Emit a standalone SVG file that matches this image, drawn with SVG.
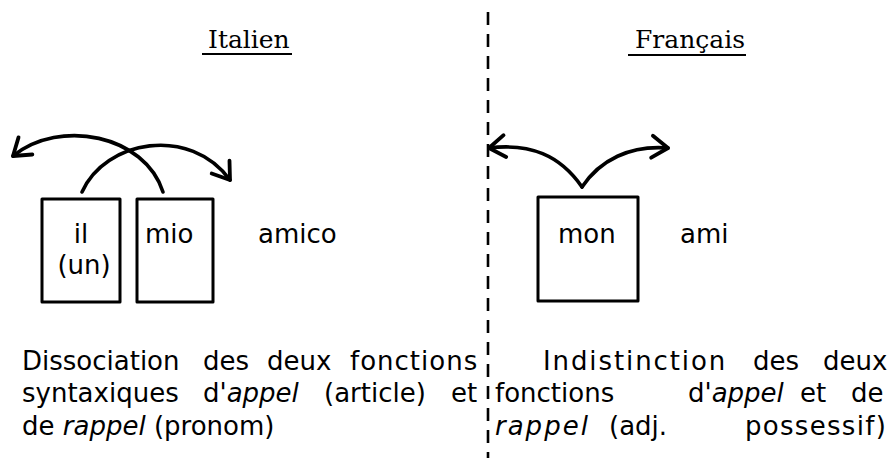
<svg xmlns="http://www.w3.org/2000/svg" width="893" height="458" viewBox="0 0 893 458">
  <defs>
    <style>
      .t{font-family:"DejaVu Sans",sans-serif;font-size:26px;fill:#000}
      .it{font-style:italic}
      .h{font-family:"DejaVu Serif",serif;font-size:25px;fill:#000}
      .box{fill:none;stroke:#000;stroke-width:3;stroke-linejoin:round}
      .ul{stroke:#000;stroke-width:2}
      .arc{fill:none;stroke:#000;stroke-width:3.6;stroke-linecap:round;marker-end:url(#head)}
      .div{stroke:#000;stroke-width:2.6;stroke-dasharray:13 9}
    </style>
    <!-- open hand-drawn style arrowhead -->
    <marker id="head" markerUnits="userSpaceOnUse" viewBox="-20 -14 24 28" markerWidth="24" markerHeight="28" refX="0" refY="0" orient="auto" overflow="visible">
      <path d="M-16,-11 L0,0 L-16,11" fill="none" stroke="#000" stroke-width="3.8" stroke-linecap="round" stroke-linejoin="round"/>
    </marker>
  </defs>

  <rect width="893" height="458" fill="#fff"/>

  <!-- column headings -->
  <g id="heading-italien">
    <text class="h" x="208" y="48">Italien</text>
    <line class="ul" x1="202" y1="54" x2="292" y2="54"/>
  </g>
  <g id="heading-francais">
    <text class="h" x="635" y="48">Français</text>
    <line class="ul" x1="628" y1="55" x2="746" y2="55"/>
  </g>

  <!-- dashed divider between the two languages -->
  <line class="div" x1="488" y1="12" x2="488" y2="458"/>

  <!-- Italian side -->
  <g id="box-il">
    <rect class="box" x="42" y="199" width="78" height="103"/>
    <text class="t" x="81" y="243" text-anchor="middle">il</text>
    <text class="t" x="84" y="274" text-anchor="middle">(un)</text>
  </g>
  <g id="box-mio">
    <rect class="box" x="137" y="199" width="76" height="103"/>
    <text class="t" x="145" y="243">mio</text>
  </g>
  <g id="word-amico">
    <text class="t" x="258" y="243">amico</text>
  </g>

  <!-- French side -->
  <g id="box-mon">
    <rect class="box" x="538" y="197" width="100" height="104"/>
    <text class="t" x="558" y="243">mon</text>
  </g>
  <g id="word-ami">
    <text class="t" x="680" y="243">ami</text>
  </g>

  <!-- arrows -->
  <g id="connectors">
    <path class="arc" d="M163,192 C145,135 60,118 13,156"/>
    <path class="arc" d="M82,192 C105,140 190,125 230,180"/>
    <path class="arc" d="M582,187 C560,155 530,143 489,148"/>
    <path class="arc" d="M582,187 C600,160 630,145 668,148"/>
  </g>

  <!-- captions (justified lines) -->
  <g id="caption-italien">
    <text class="t" y="370"><tspan x="22">Dissociation</tspan><tspan x="203">des</tspan><tspan x="267">deux</tspan><tspan x="350" letter-spacing="1">fonctions</tspan></text>
    <text class="t" y="402"><tspan x="22">syntaxiques</tspan><tspan x="203">d'</tspan><tspan class="it">appel</tspan><tspan x="324">(article)</tspan><tspan x="451">et</tspan></text>
    <text class="t" x="22" y="435">de <tspan class="it">rappel</tspan> (pronom)</text>
  </g>
  <g id="caption-francais">
    <text class="t" y="370"><tspan x="543" letter-spacing="1.9">Indistinction</tspan><tspan x="753">des</tspan><tspan x="823">deux</tspan></text>
    <text class="t" y="402"><tspan x="495">fonctions</tspan><tspan x="688">d'</tspan><tspan class="it">appel</tspan><tspan x="800">et</tspan><tspan x="851">de</tspan></text>
    <text class="t" y="435"><tspan x="495" class="it" letter-spacing="2">rappel</tspan><tspan x="609">(adj.</tspan><tspan x="745" letter-spacing="1.3">possessif)</tspan></text>
  </g>
</svg>
